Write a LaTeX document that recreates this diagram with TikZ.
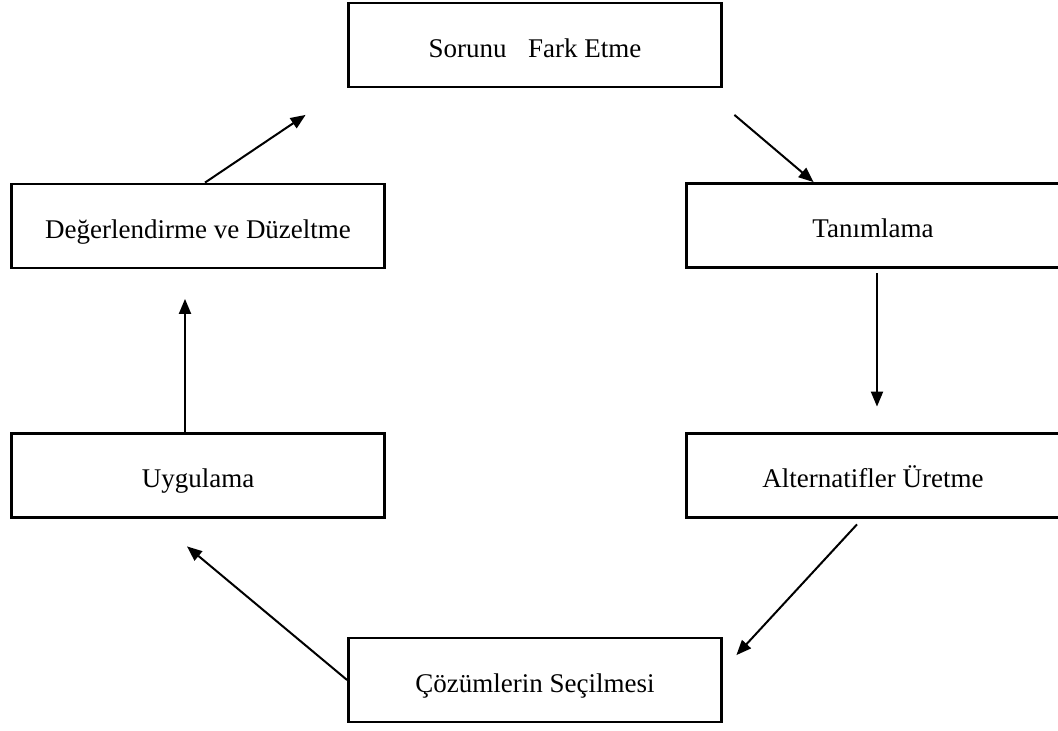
\documentclass[tikz,border=0pt]{standalone}
\usepackage{fontspec}
\setmainfont{Liberation Serif}
\usetikzlibrary{arrows.meta}
\begin{document}
\begin{tikzpicture}[x=1pt,y=-1pt,
  box/.style={draw=black, line width=2.8pt, fill=white, minimum width=373pt, minimum height=84pt,
    inner sep=0pt, text height=24pt, text depth=0pt, font=\fontsize{27}{30}\selectfont},
  arr/.style={draw=black, line width=2pt, -{Triangle[length=15pt,width=12pt]}}]
\useasboundingbox (0,0) rectangle (1058,731);
\fill[white] (0,0) rectangle (1058,731);
\clip (0,0) rectangle (1058,731);
\node[box] (s) at (535,45) {Sorunu\hspace*{0.8em}Fark Etme};
\node[box] (t) at (873,225.5) {Tanımlama};
\node[box] (d) at (198,226) {Değerlendirme ve Düzeltme};
\node[box] (a) at (873,475.5) {Alternatifler Üretme};
\node[box] (u) at (198,475.5) {Uygulama};
\node[box] (c) at (535,680) {Çözümlerin Seçilmesi};
\draw[arr] ([xshift=11.5pt,yshift=-26.5pt]s.south east) -- ([xshift=128.5pt]t.north west);
\draw[arr] ([xshift=4pt,yshift=-4.5pt]t.south) -- ([xshift=4pt,yshift=25.5pt]a.north);
\draw[arr] ([xshift=-16pt,yshift=-5.5pt]a.south) -- ([xshift=13.5pt,yshift=-18.5pt]c.north east);
\draw[arr] (c.west) -- ([xshift=-11pt,yshift=-27.5pt]u.south);
\draw[arr] ([xshift=-13pt]u.north) -- ([xshift=-13pt,yshift=-29.5pt]d.south);
\draw[arr] ([xshift=7pt]d.north) -- ([xshift=-41.5pt,yshift=-26.5pt]s.south west);
\end{tikzpicture}
\end{document}
